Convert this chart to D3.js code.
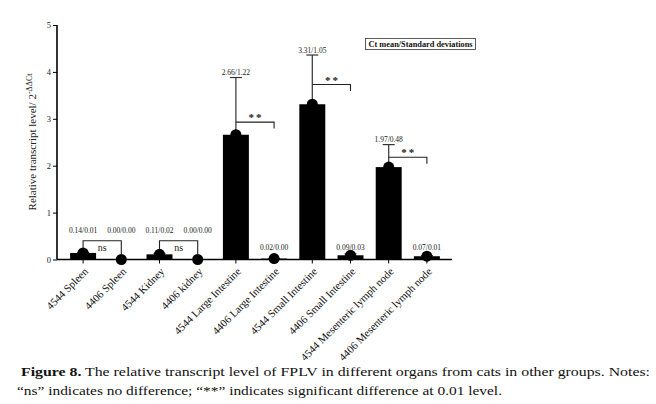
<!DOCTYPE html>
<html>
<head>
<meta charset="utf-8">
<script src="https://cdn.jsdelivr.net/npm/d3@7"></script>
<style>
	body { margin: 0; background: #fff; }
	svg { display: block; }
	text { font-family: 'Liberation Serif', 'Times New Roman', serif; }
</style>
</head>
<body>
<div id="chart"></div>
<script>
const categories = [
	'4544 Spleen', '4406 Spleen', '4544 Kidney', '4406 kidney',
	'4544 Large Intestine', '4406 Large Intestine',
	'4544 Small Intestine', '4406 Small Intestine',
	'4544 Mesenteric lymph node', '4406 Mesenteric lymph node'
];
const means = [0.14, 0.00, 0.11, 0.00, 2.66, 0.02, 3.31, 0.09, 1.97, 0.07];
const sds = [0.01, 0.00, 0.02, 0.00, 1.22, 0.00, 1.05, 0.03, 0.48, 0.01];
const yTicks = [0, 1, 2, 3, 4, 5];

// comparisons: [first index, second index, mark, bracket level in y units]
const comparisons = [
	[0, 1, 'ns', 0.40],
	[2, 3, 'ns', 0.40],
	[4, 5, '**', 2.93],
	[6, 7, '**', 3.73],
	[8, 9, '**', 2.18]
];

const width = 656;
const height = 404;

const svg = d3.select('#chart')
	.append('svg')
	.attr('width', width)
	.attr('height', height);

const y = d3.scaleLinear()
	.domain([0, 5])
	.range([259.5, 25]);

const x = d3.scaleBand()
	.domain(categories)
	.range([64, 446])
	.paddingInner(0.32)
	.paddingOuter(0.16);

const cx = (i) => x(categories[i]) + x.bandwidth() / 2;

// y axis
const yAxis = svg.append('g')
	.attr('transform', 'translate(57,0)')
	.call(d3.axisLeft(y).tickValues(yTicks).tickSize(4).tickPadding(2).tickFormat(d3.format('d')));
yAxis.select('.domain').attr('stroke-width', 1.6).attr('d', `M0,${y(5)}V${y(0)}`);
yAxis.selectAll('.tick line').attr('stroke-width', 1);
yAxis.selectAll('.tick text')
	.attr('font-size', 8.5)
	.attr('fill', '#222');

// x axis
const xAxis = svg.append('g')
	.attr('transform', `translate(0,${y(0)})`)
	.call(d3.axisBottom(x).tickSize(4).tickSizeOuter(0));
xAxis.select('.domain').attr('stroke-width', 1.6).attr('d', 'M57,0H452');
xAxis.selectAll('.tick line').attr('stroke-width', 1);
xAxis.selectAll('.tick text')
	.attr('font-size', 10.8)
	.attr('fill', '#111')
	.attr('text-anchor', 'end')
	.attr('y', 0)
	.attr('dy', '0.35em')
	.attr('transform', 'translate(3,10) rotate(-45)');

// bars
svg.append('g')
	.selectAll('rect')
	.data(means)
	.join('rect')
	.attr('x', (d, i) => x(categories[i]))
	.attr('y', (d) => y(d))
	.attr('width', x.bandwidth())
	.attr('height', (d) => y(0) - y(d))
	.attr('fill', '#000');

// error bars (upper only)
const err = svg.append('g')
	.attr('stroke', '#333')
	.attr('stroke-width', 1.2);

err.selectAll('line.v')
	.data(means)
	.join('line')
	.attr('class', 'v')
	.attr('x1', (d, i) => cx(i))
	.attr('x2', (d, i) => cx(i))
	.attr('y1', (d) => y(d))
	.attr('y2', (d, i) => y(d + sds[i]));

err.selectAll('line.cap')
	.data(means)
	.join('line')
	.attr('class', 'cap')
	.attr('x1', (d, i) => cx(i) - 6)
	.attr('x2', (d, i) => cx(i) + 6)
	.attr('y1', (d, i) => y(d + sds[i]))
	.attr('y2', (d, i) => y(d + sds[i]));

// points
svg.append('g')
	.selectAll('circle')
	.data(means)
	.join('circle')
	.attr('cx', (d, i) => cx(i))
	.attr('cy', (d) => y(d))
	.attr('r', 5.5)
	.attr('fill', '#000');

// brackets
const br = svg.append('g');
comparisons.forEach(([a, b, mark, level]) => {
	const ly = y(level);
	if (mark === 'ns') {
		br.append('path')
			.attr('d', `M${cx(a)},${y(means[a]) - 5}V${ly}H${cx(b)}V${y(means[b]) - 5}`)
			.attr('fill', 'none')
			.attr('stroke', '#222')
			.attr('stroke-width', 1.1);
		br.append('text')
			.attr('x', (cx(a) + cx(b)) / 2)
			.attr('y', ly + 10.5)
			.attr('text-anchor', 'middle')
			.attr('font-size', 10)
			.attr('fill', '#222')
			.text('ns');
	} else {
		br.append('path')
			.attr('d', `M${cx(a)},${ly}H${cx(b)}V${ly + 6.5}`)
			.attr('fill', 'none')
			.attr('stroke', '#222')
			.attr('stroke-width', 1.1);
		br.append('text')
			.attr('x', (cx(a) + cx(b)) / 2 + 1)
			.attr('y', ly - 1)
			.attr('text-anchor', 'middle')
			.attr('font-size', 11)
			.attr('font-weight', 'bold')
			.attr('letter-spacing', 2)
			.attr('fill', '#222')
			.text('**');
	}
});

// value labels
const nsLevel = (i) => {
	const c = comparisons.find((d) => d[2] === 'ns' && (d[0] === i || d[1] === i));
	return c ? c[3] : null;
};
svg.append('g')
	.selectAll('text')
	.data(means)
	.join('text')
	.attr('x', (d, i) => cx(i))
	.attr('y', (d, i) => {
		const lv = nsLevel(i);
		if (lv !== null) return y(lv) - 8;
		return Math.min(y(d + sds[i]) - 2.5, y(0) - 9.5);
	})
	.attr('text-anchor', 'middle')
	.attr('font-size', 7.5)
	.attr('fill', '#222')
	.text((d, i) => `${d.toFixed(2)}/${sds[i].toFixed(2)}`);

// legend box
svg.append('rect')
	.attr('x', 365.5)
	.attr('y', 38.5)
	.attr('width', 110)
	.attr('height', 11)
	.attr('fill', '#fff')
	.attr('stroke', '#333')
	.attr('stroke-width', 0.8);
svg.append('text')
	.attr('x', 368.5)
	.attr('y', 46.8)
	.attr('font-size', 7.2)
	.attr('font-weight', 'bold')
	.attr('fill', '#111')
	.attr('textLength', 104)
	.attr('lengthAdjust', 'spacingAndGlyphs')
	.text('Ct mean/Standard deviations');

// y axis title
const yt = svg.append('text')
	.attr('transform', 'translate(36,142) rotate(-90)')
	.attr('text-anchor', 'middle')
	.attr('font-size', 11)
	.attr('fill', '#222');
yt.append('tspan').text('Relative transcript level/ 2');
yt.append('tspan').attr('dy', -4.5).attr('font-size', 8).text('-ΔΔCt');

// caption
const cap1 = svg.append('text')
	.attr('x', 21)
	.attr('y', 376)
	.attr('font-size', 12.5)
	.attr('fill', '#111')
	.attr('textLength', 629)
	.attr('lengthAdjust', 'spacingAndGlyphs');
cap1.append('tspan').attr('font-weight', 'bold').text('Figure 8.');
cap1.append('tspan').text(' The relative transcript level of FPLV in different organs from cats in other groups. Notes:');

svg.append('text')
	.attr('x', 17)
	.attr('y', 395)
	.attr('font-size', 12.5)
	.attr('fill', '#111')
	.attr('textLength', 485)
	.attr('lengthAdjust', 'spacingAndGlyphs')
	.text('\u201Cns\u201D indicates no difference; \u201C**\u201D indicates significant difference at 0.01 level.');
</script>
</body>
</html>
